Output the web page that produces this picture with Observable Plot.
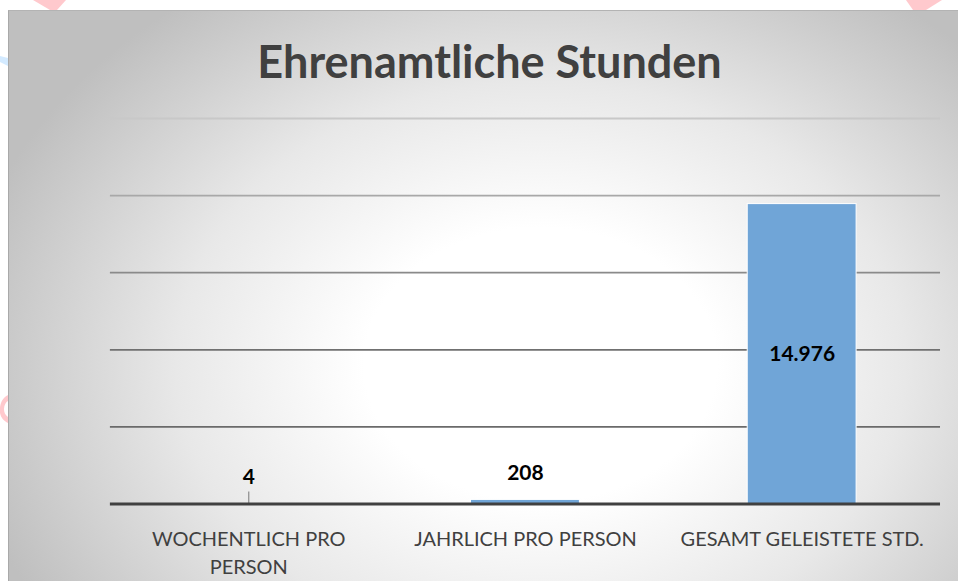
<!DOCTYPE html>
<html>
<head>
<meta charset="utf-8">
<script src="https://cdn.jsdelivr.net/npm/d3@7"></script>
<script src="https://cdn.jsdelivr.net/npm/@observablehq/plot@0.6"></script>
<style>
  html, body { margin: 0; padding: 0; background: #ffffff; width: 958px; height: 581px; overflow: hidden; position: relative; }
  #deco { position: absolute; left: 0; top: 0; }
  #card {
    position: absolute; left: 8px; top: 10px; width: 950px; height: 571px;
    box-sizing: border-box;
    border-top: 1px solid #b3b3b3; border-left: 1px solid #a9a9a9;
    background: radial-gradient(ellipse 62% 80% at 56% 62%, #ffffff 0%, #ffffff 30%, #e8e8e8 62%, #bfbfbf 100%);
  }
  #title {
    height: 95px; box-sizing: border-box; padding-top: 28px; padding-left: 12px;
    text-align: center; font-family: Lato, sans-serif; font-weight: 700;
    font-size: 45px; line-height: 45px; color: #404040; margin: 0;
  }
  #chart svg { display: block; }
</style>
</head>
<body>
<svg id="deco" width="958" height="581">
  <polygon points="33,0 66,0 57,10 50,10" fill="#ffc9cd"/>
  <polygon points="906,0 942,0 926,10 913,10" fill="#ffc9cd"/>
  <polygon points="0,56 8,58 8,66 0,62" fill="#d3eaff"/>
  <path d="M8,395 C2,398 0,404 0,409 L0,413 C1,418 4,421 8,423 L8,417 C5,415 4,412 4,409 C4,405 6,402 8,401 Z" fill="#ffc9cd"/>
</svg>
<div id="card">
  <div id="title">Ehrenamtliche Stunden</div>
  <div id="chart"></div>
</div>
<script>
const categories = ["WOCHENTLICH PRO PERSON", "JAHRLICH PRO PERSON", "GESAMT GELEISTETE STD."];
const tickLabels = ["WOCHENTLICH PRO\nPERSON", "JAHRLICH PRO PERSON", "GESAMT GELEISTETE STD."];
const values = [4, 208, 14976];
const valueLabels = ["4", "208", "14.976"];
const gridValues = [3850, 7700, 11550, 15400, 19250];

const data = categories.map((c, i) => ({category: c, value: values[i], label: valueLabels[i], tick: tickLabels[i]}));
const gridStrokes = ["#6a6a6a", "#707070", "#8a8a8a", "#a8a8a8", "#c8c8c8"];
const yMax = gridValues[gridValues.length - 1];
const big = d => d.value > yMax * 0.1;

const plot = Plot.plot({
  width: 950,
  height: 475,
  marginLeft: 101,
  marginRight: 18,
  marginTop: 12,
  marginBottom: 77,
  style: {background: "transparent", fontFamily: "Lato, sans-serif"},
  x: {domain: categories, paddingInner: 0.606, paddingOuter: 0.303, label: null},
  y: {domain: [0, yMax], axis: null},
  marks: [
    Plot.ruleY(gridValues, {y: d => d, stroke: (d, i) => gridStrokes[i], strokeWidth: 1.8}),
    Plot.barY(data, {x: "category", y: "value", fill: "#70a5d7", stroke: "#ffffff", strokeWidth: 1}),
    Plot.ruleX(data.filter(d => !big(d) && d.value < 100), {x: "category", y1: 0, y2: "value", stroke: "#8c8c8c", strokeWidth: 1.2, insetTop: -12}),
    Plot.ruleY([0], {stroke: "#404040", strokeWidth: 3}),
    Plot.text(data.filter(big), {x: "category", y: d => d.value / 2, text: "label", fontWeight: 700, fontSize: 21, fill: "#000000", lineAnchor: "middle"}),
    Plot.text(data.filter(d => !big(d)), {x: "category", y: "value", text: "label", fontWeight: 700, fontSize: 21, fill: "#000000", lineAnchor: "bottom", dy: -20}),
    Plot.axisX({tickSize: 0, tickPadding: 22, fontSize: 20, fill: "#404040", lineHeight: 1.4, tickFormat: d => tickLabels[categories.indexOf(d)]})
  ]
});
document.getElementById("chart").appendChild(plot);
</script>
</body>
</html>
